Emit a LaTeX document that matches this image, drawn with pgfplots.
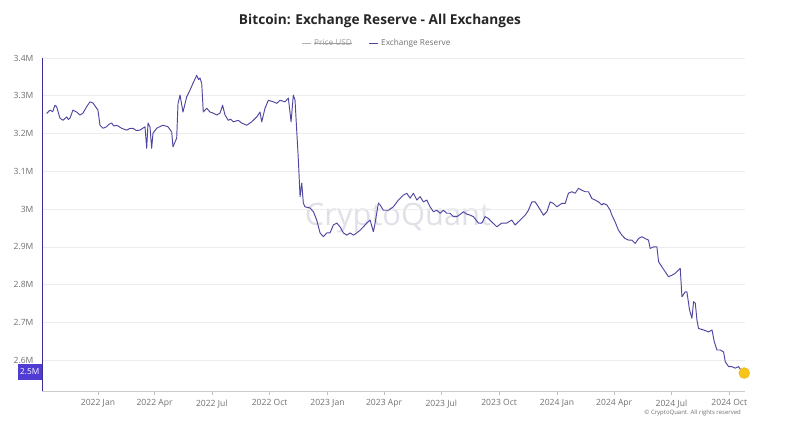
\documentclass[border=0pt]{standalone}
\usepackage{pgfplots}
\pgfplotsset{compat=1.18}
\usepackage{fontspec}
\setmainfont{Open Sans}
\definecolor{reserve}{RGB}{78,70,160}
\definecolor{boxc}{RGB}{80,60,210}
\definecolor{dotc}{RGB}{247,196,25}
\definecolor{lbl}{RGB}{112,112,112}
\definecolor{gridc}{RGB}{236,236,236}
\definecolor{wm}{RGB}{224,224,232}
\begin{document}
\begin{tikzpicture}
\useasboundingbox (0bp,0bp) rectangle (800bp,427bp);
\node[font=\bfseries\fontsize{13.7}{15}\selectfont, text=black!85] at (380bp,406bp) {Bitcoin: Exchange Reserve - All Exchanges};
\draw[gray!60, line width=0.6] (302bp,384bp)--(311bp,384bp);
\node[anchor=west, inner sep=0, text=gray!75, font=\fontsize{8.3}{9}\selectfont] (pu) at (314bp,384bp) {Price USD};
\draw[gray!75, line width=0.5] (pu.west) -- (pu.east);
\draw[reserve, line width=0.8] (369bp,384bp)--(378bp,384bp);
\node[anchor=west, inner sep=0, text=lbl, font=\fontsize{8.3}{9}\selectfont] at (381bp,384bp) {Exchange Reserve};
\node[text=wm, font=\fontsize{31}{33}\selectfont] at (398bp,209bp) {CryptoQuant};
\node[anchor=east, inner sep=0, text=lbl, font=\fontsize{6}{7}\selectfont] at (741bp,14bp) {© CryptoQuant. All rights reserved};
\begin{axis}[
  at={(42bp,36bp)}, anchor=south west,
  width=703bp, height=333bp, scale only axis,
  xmin=-89, xmax=1029, ymin=2.5185, ymax=3.4,
  axis lines*=left,
  x axis line style={draw=gray!40, line width=0.6},
  y axis line style={draw=boxc!75!black, line width=1},
  ymajorgrids, grid style={gridc, line width=0.6},
  xtick={0,90,181,273,365,455,546,638,730,821,912,1004},
  xticklabels={2022 Jan,2022 Apr,2022 Jul,2022 Oct,2023 Jan,2023 Apr,2023 Jul,2023 Oct,2024 Jan,2024 Apr,2024 Jul,2024 Oct},
  ytick={2.6,2.7,2.8,2.9,3.0,3.1,3.2,3.3,3.4},
  yticklabels={2.6M,2.7M,2.8M,2.9M,3M,3.1M,3.2M,3.3M,3.4M},
  tick align=outside,
  xtick style={draw=gray!50, line width=0.5},
  major tick length=4bp,
  ytick style={draw=none},
  ticklabel style={text=lbl, font=\fontsize{8.6}{10}\selectfont},
  xticklabel style={yshift=-1bp},
  yticklabel style={xshift=-1bp},
  clip=false,
]
\addplot[reserve, line width=0.95, line join=round] coordinates {
(-81.6,3.253)(-76.4,3.262)(-72,3.258)(-68.4,3.275)(-65.7,3.271)(-60.5,3.241)(-55.7,3.235)(-49.8,3.244)(-47,3.237)(-44.5,3.241)
(-39.8,3.262)(-33.9,3.257)(-28.6,3.249)(-23.9,3.254)(-18.0,3.271)(-12.7,3.284)(-8.0,3.281)(-2.1,3.267)(0,3.262)
(3.2,3.222)(8.0,3.214)(13.8,3.218)(17,3.224)(21.8,3.228)(25,3.220)(29.8,3.222)(33,3.219)(37.7,3.214)(45.7,3.209)(50,3.213)(55.7,3.214)
(61,3.208)(66.8,3.209)(74.8,3.218)(77.5,3.161)(79.6,3.228)(82.7,3.218)(85.4,3.161)(87.5,3.201)(93.4,3.214)(98,3.218)
(103.4,3.222)(111.4,3.218)(117.3,3.204)(119.3,3.165)(125.2,3.188)(127.3,3.279)(130.5,3.302)(135.2,3.257)(141.1,3.297)
(146.4,3.315)(151.1,3.333)(157.0,3.354)(160,3.343)(162.3,3.347)(165.0,3.333)(167.5,3.257)(172.9,3.267)(178.2,3.257)
(183.4,3.254)(188.9,3.249)(194.1,3.254)(198.2,3.275)(202.1,3.249)(207.3,3.235)(211,3.238)(215.3,3.231)(223.2,3.235)
(228.5,3.228)(236.6,3.222)(240,3.226)(244.5,3.231)(252.5,3.244)(257.7,3.257)(260.4,3.231)(265.7,3.267)(270.9,3.288)
(278.9,3.284)(284.3,3.280)(289.6,3.288)(297.5,3.284)(302.8,3.294)(307.1,3.231)(310.7,3.302)(313.4,3.288)(318.7,3.130)
(321.4,3.033)(324.1,3.069)(326.6,3.016)(329.3,3.006)(337.3,3.003)(342.6,2.993)(347.9,2.971)(353.2,2.937)(358.5,2.927)
(363.9,2.937)(369.1,2.937)(374.4,2.958)(379.8,2.963)(385.0,2.953)(390.3,2.937)(395.7,2.931)(400.9,2.937)(406.2,2.931)
(411.6,2.937)(416.8,2.944)(422.1,2.953)(427.5,2.963)(432.8,2.971)(438.0,2.940)(440.7,2.963)(446.0,3.016)(448.7,3.011)
(453.9,2.997)(461.9,2.997)(469.8,3.006)(477.8,3.024)(485.7,3.037)(491.1,3.042)(496.4,3.029)(501.7,3.042)(507.1,3.024)
(512.3,3.033)(517.6,3.019)(522.9,3.024)(528.2,3.006)(533.5,2.993)(538.9,2.997)(544.1,2.989)(549.4,2.997)(554.8,2.989)
(560.0,2.989)(565.3,2.980)(570.7,2.980)(576,2.986)(581.2,2.993)(586,2.987)(591.9,2.984)(597.1,2.980)(605.1,2.963)(610.5,2.963)
(615.7,2.980)(621.0,2.975)(626.4,2.966)(634.3,2.953)(642.1,2.963)(650.1,2.963)(658.1,2.971)(663.4,2.958)(671.4,2.971)
(679.4,2.984)(684.6,2.997)(690.0,3.019)(695.3,3.019)(700.5,3.006)(708.5,2.984)(713.9,2.993)(719.1,3.019)(724.4,3.015)
(729.8,3.006)(737.6,3.015)(743.0,3.015)(748.2,3.042)(753.6,3.046)(758.9,3.042)(764.1,3.055)(769.5,3.050)(774.8,3.046)
(780.0,3.046)(785.5,3.028)(790.7,3.024)(796.0,3.019)(801.4,3.011)(803.9,3.015)(809.3,3.011)(814.6,2.997)(817.3,2.984)
(822.5,2.966)(827.8,2.944)(833.2,2.931)(838.4,2.922)(843.7,2.918)(849.1,2.918)(854.3,2.909)(859.6,2.922)(865.0,2.927)
(870.3,2.922)(875.5,2.918)(878.2,2.896)(883.5,2.900)(888.9,2.900)(891.5,2.861)(896.9,2.847)(902.1,2.834)(907.4,2.821)
(912.8,2.825)(918.0,2.830)(923.3,2.839)(926.0,2.843)(928.7,2.768)(933.9,2.781)(936.6,2.781)(940.8,2.733)(944.6,2.711)
(947.2,2.755)(949.9,2.751)(952.6,2.706)(955.1,2.684)(963.1,2.680)(971.1,2.675)(976.5,2.680)(980.1,2.649)(984.4,2.627)
(989.7,2.627)(994.9,2.622)(997.6,2.596)(1002.9,2.583)(1008.1,2.583)(1013.4,2.579)(1018.7,2.583)(1024.0,2.570)(1027.8,2.566)
};
\addplot[only marks, mark=*, mark size=5.5bp, mark options={fill=dotc, draw=dotc!90!black, line width=0.3}] coordinates {(1027.8,2.566)};
\node[anchor=east, fill=boxc, text=white, inner sep=0, minimum width=24bp, minimum height=16bp, font=\fontsize{8.3}{9}\selectfont] at (axis cs:-89,2.569) {2.5M};
\end{axis}
\end{tikzpicture}
\end{document}
